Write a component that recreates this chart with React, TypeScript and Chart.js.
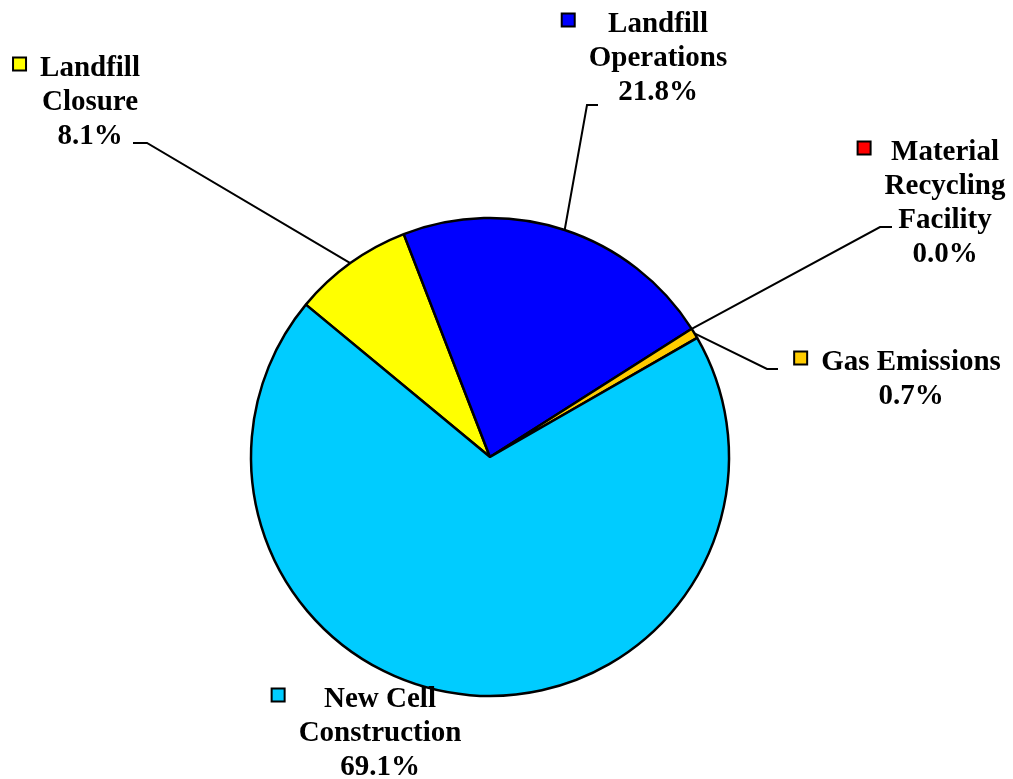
import React, { useEffect, useRef } from "react";
import { Chart, registerables } from "chart.js";

Chart.register(...registerables);

// ---- data ----
const categories = [
  "Landfill Closure",
  "Landfill Operations",
  "Material Recycling Facility",
  "Gas Emissions",
  "New Cell Construction",
];
const percentages = [8.1, 21.8, 0.0, 0.7, 69.1];
const nameLines = [
  ["Landfill", "Closure"],
  ["Landfill", "Operations"],
  ["Material", "Recycling", "Facility"],
  ["Gas Emissions"],
  ["New Cell", "Construction"],
];
const sliceColors = ["#FFFF00", "#0000FF", "#FF0000", "#FFCC00", "#00CCFF"];

// ---- label layout (offsets from pie centre, px) ----
const labelCenters: [number, number][] = [
  [-400, -388],
  [168, -432],
  [455, -304],
  [421, -94],
  [-110, 243],
];
const leaderElbows: ([number, number, number] | null)[] = [
  [-343, -314, -357],
  [97, -352, 108],
  [390, -230, 402],
  [277, -88, 288],
  null,
];

const FONT = 'bold 29px "Liberation Serif", "Times New Roman", serif';
const LINE_H = 34;

const labelPlugin = {
  id: "outsideLabels",
  afterDatasetsDraw(chart: any) {
    const ctx = chart.ctx as CanvasRenderingContext2D;
    const meta = chart.getDatasetMeta(0);
    ctx.save();
    meta.data.forEach((arc: any, i: number) => {
      const { x, y, startAngle, endAngle, outerRadius } = arc.getProps(
        ["x", "y", "startAngle", "endAngle", "outerRadius"],
        true
      );
      const mid = (startAngle + endAngle) / 2;
      const px = x + Math.cos(mid) * outerRadius;
      const py = y + Math.sin(mid) * outerRadius;
      const el = leaderElbows[i];
      if (el) {
        ctx.beginPath();
        ctx.strokeStyle = "#000";
        ctx.lineWidth = 2;
        ctx.moveTo(px, py);
        ctx.lineTo(x + el[0], y + el[1]);
        ctx.lineTo(x + el[2], y + el[1]);
        ctx.stroke();
      }
      const lines = [...nameLines[i], percentages[i].toFixed(1) + "%"];
      const [cxo, cyo] = labelCenters[i];
      const cx = x + cxo;
      const cy = y + cyo;
      ctx.font = FONT;
      ctx.fillStyle = "#000";
      ctx.textAlign = "center";
      ctx.textBaseline = "middle";
      let maxW = 0;
      lines.forEach((t, k) => {
        maxW = Math.max(maxW, ctx.measureText(t).width);
        ctx.fillText(t, cx, cy + k * LINE_H);
      });
      const sq = 13;
      const sx = cx - maxW / 2 - 14 - sq;
      const sy = cy - 5 - sq / 2;
      ctx.fillStyle = sliceColors[i];
      ctx.fillRect(sx, sy, sq, sq);
      ctx.strokeStyle = "#000";
      ctx.lineWidth = 2;
      ctx.strokeRect(sx, sy, sq, sq);
    });
    ctx.restore();
  },
};

export default function App() {
  const ref = useRef<HTMLCanvasElement>(null);
  useEffect(() => {
    document.body.style.margin = "0";
    const chart = new Chart(ref.current!, {
      type: "pie",
      data: {
        labels: categories,
        datasets: [
          {
            data: percentages,
            backgroundColor: sliceColors,
            borderColor: "#000",
            borderWidth: 2.5,
          },
        ],
      },
      options: {
        responsive: false,
        animation: false,
        devicePixelRatio: 1,
        events: [],
        rotation: -50.4,
        radius: 239,
        layout: { padding: { left: 0, right: 33, top: 135, bottom: 0 } },
        plugins: {
          legend: { display: false },
          tooltip: { enabled: false },
          title: { display: false },
        },
      } as any,
      plugins: [labelPlugin],
    });
    return () => chart.destroy();
  }, []);
  return (
    <canvas
      ref={ref}
      width={1013}
      height={779}
      style={{ display: "block", background: "#fff" }}
    />
  );
}
